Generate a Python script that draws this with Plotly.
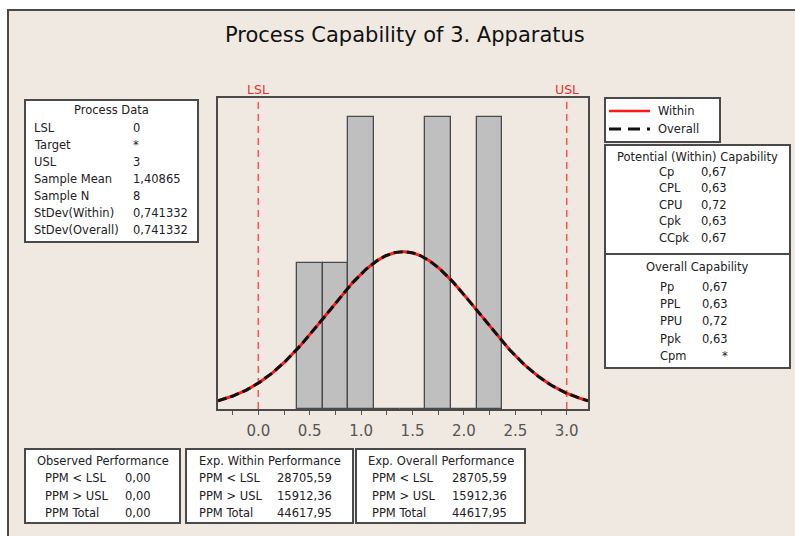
import numpy as np
import plotly.graph_objects as go

W, H = 795, 536

# ---------------- data ----------------
bin_centers = [0.5, 0.75, 1.0, 1.25, 1.5, 1.75, 2.0, 2.25]
bin_counts = [1, 1, 2, 0, 0, 2, 0, 2]
bin_width = 0.25

lsl, usl = 0.0, 3.0
sample_mean = 1.40865
sample_n = 8
stdev_within = 0.741332
stdev_overall = 0.741332

x_tick_vals = [0.0, 0.5, 1.0, 1.5, 2.0, 2.5, 3.0]
x_tick_labels = ["0.0", "0.5", "1.0", "1.5", "2.0", "2.5", "3.0"]
x_minor_vals = [-0.25, 0.25, 0.75, 1.25, 1.75, 2.25, 2.75]

title_text = "Process Capability of 3. Apparatus"

process_labels = ["LSL", "Target", "USL", "Sample Mean", "Sample N", "StDev(Within)", "StDev(Overall)"]
process_values = ["0", "*", "3", "1,40865", "8", "0,741332", "0,741332"]

within_cap_labels = ["Cp", "CPL", "CPU", "Cpk", "CCpk"]
within_cap_values = ["0,67", "0,63", "0,72", "0,63", "0,67"]

overall_cap_labels = ["Pp", "PPL", "PPU", "Ppk", "Cpm"]
overall_cap_values = ["0,67", "0,63", "0,72", "0,63", "*"]

perf_labels = ["PPM < LSL", "PPM > USL", "PPM Total"]
observed_values = ["0,00", "0,00", "0,00"]
exp_within_values = ["28705,59", "15912,36", "44617,95"]
exp_overall_values = ["28705,59", "15912,36", "44617,95"]

# ---------------- helpers ----------------
def px(x):
    return x / W

def py(y):
    return 1 - y / H

def esc(s):
    return s.replace("&", "&amp;").replace("<", "&lt;").replace(">", "&gt;")

FONT = "DejaVu Sans"
TXT = "#222222"
BORDER = "#4a4a4a"
BG = "#EFE9E1"
FS = 11.5

shapes = []
annotations = []

def box(x0, y0, x1, y1, fill="white"):
    shapes.append(dict(type="rect", xref="paper", yref="paper",
                       x0=px(x0), x1=px(x1), y0=py(y0), y1=py(y1),
                       fillcolor=fill, line=dict(color=BORDER, width=2),
                       layer="below"))

def text(x, y, s, anchor="left", size=FS, color=TXT):
    annotations.append(dict(xref="paper", yref="paper", x=px(x), y=py(y),
                            text=esc(s), showarrow=False, xanchor=anchor,
                            yanchor="middle",
                            font=dict(family=FONT, size=size, color=color)))

# outer frame
shapes.append(dict(type="rect", xref="paper", yref="paper",
                   x0=px(8), x1=px(W + 10), y0=py(10), y1=py(H + 10),
                   fillcolor=BG, line=dict(color=BORDER, width=2), layer="below"))

# title
text(405, 35, title_text, anchor="center", size=21, color="#111111")

# Process Data box
box(25, 100, 198, 242)
text(111, 110, "Process Data", anchor="center")
for i, (lab, val) in enumerate(zip(process_labels, process_values)):
    yy = 128 + i * 17
    text(32, yy, lab)
    text(131, yy, val)

# Legend box
box(605, 98, 720, 142)
shapes.append(dict(type="line", xref="paper", yref="paper",
                   x0=px(609), x1=px(650), y0=py(111), y1=py(111),
                   line=dict(color="#FF1A1A", width=2.5)))
shapes.append(dict(type="line", xref="paper", yref="paper",
                   x0=px(609), x1=px(650), y0=py(129), y1=py(129),
                   line=dict(color="#111111", width=3, dash="12px,7px")))
text(656, 111, "Within")
text(656, 129, "Overall")

# Potential (Within) Capability box
box(605, 145, 790, 254)
text(697, 157, "Potential (Within) Capability", anchor="center")
for i, (lab, val) in enumerate(zip(within_cap_labels, within_cap_values)):
    yy = 172 + i * 16.4
    text(657, yy, lab)
    text(729, yy, val, anchor="right")

# Overall Capability box
box(605, 254, 790, 368)
text(697, 267, "Overall Capability", anchor="center")
for i, (lab, val) in enumerate(zip(overall_cap_labels, overall_cap_values)):
    yy = 287 + i * 17.2
    text(658, yy, lab)
    text(730, yy, val, anchor="right")

# Bottom performance boxes
perf_boxes = [
    (25, 180, "Observed Performance", observed_values, 43, 153),
    (186, 353, "Exp. Within Performance", exp_within_values, 197, 334),
    (356, 525, "Exp. Overall Performance", exp_overall_values, 370, 509),
]
for x0, x1, ttl, vals, lx, vx in perf_boxes:
    box(x0, 449, x1, 523)
    text((x0 + x1) / 2, 461, ttl, anchor="center")
    for i, (lab, val) in enumerate(zip(perf_labels, vals)):
        yy = 478 + i * 17.5
        text(lx, yy, lab)
        text(vx, yy, val, anchor="right")

# ---------------- plot ----------------
x_min, x_max = -0.392, 3.207
xs = np.linspace(x_min, x_max, 400)
scale = sample_n * bin_width
y_within = scale * np.exp(-0.5 * ((xs - sample_mean) / stdev_within) ** 2) / (stdev_within * np.sqrt(2 * np.pi))
y_overall = scale * np.exp(-0.5 * ((xs - sample_mean) / stdev_overall) ** 2) / (stdev_overall * np.sqrt(2 * np.pi))

fig = go.Figure()
fig.add_trace(go.Bar(x=bin_centers, y=bin_counts, width=bin_width,
                     marker=dict(color="#BFBFBF", line=dict(color="#4a4a4a", width=1.3)),
                     showlegend=False, hoverinfo="skip"))
fig.add_trace(go.Scatter(x=xs, y=y_within, mode="lines", name="Within",
                         line=dict(color="#FF1A1A", width=3), showlegend=False))
fig.add_trace(go.Scatter(x=xs, y=y_overall, mode="lines", name="Overall",
                         line=dict(color="#111111", width=3, dash="9px,4px"),
                         showlegend=False))

for v, lab in [(lsl, "LSL"), (usl, "USL")]:
    shapes.append(dict(type="line", xref="x", yref="y domain", x0=v, x1=v, y0=0, y1=1,
                       line=dict(color="#FF5050", width=1.5, dash="7px,5px"), layer="below"))
    annotations.append(dict(xref="x", yref="paper", x=v, y=py(90), text=lab,
                            showarrow=False, xanchor="center", yanchor="middle",
                            font=dict(family=FONT, size=12.5, color="#E83030")))

fig.update_layout(
    width=W, height=H,
    margin=dict(l=0, r=0, t=0, b=0, autoexpand=False),
    paper_bgcolor="white",
    plot_bgcolor="white",
    showlegend=False,
    bargap=0,
    shapes=shapes,
    annotations=annotations,
    xaxis=dict(domain=[px(218), px(588)], range=[x_min, x_max],
               tickmode="array", tickvals=x_tick_vals, ticktext=x_tick_labels,
               ticks="outside", ticklen=4, tickwidth=1, tickcolor="#555555",
               ticklabelstandoff=3,
               tickfont=dict(family=FONT, size=15, color="#555555"),
               minor=dict(tickmode="array", tickvals=x_minor_vals, ticks="outside",
                          ticklen=4, tickwidth=1, tickcolor="#555555", showgrid=False),
               showline=True, linecolor="#4a4a4a", linewidth=1.5, mirror=True,
               showgrid=False, zeroline=False, automargin=False, fixedrange=True),
    yaxis=dict(domain=[py(409), py(98)], range=[0, 2.128],
               showticklabels=False, ticks="",
               showline=True, linecolor="#4a4a4a", linewidth=1.5, mirror=True,
               showgrid=False, zeroline=False, automargin=False, fixedrange=True),
)

fig.write_html("out.html",
               config={"displayModeBar": False},
               post_script="document.body.style.margin='0';document.body.style.overflow='hidden';")
